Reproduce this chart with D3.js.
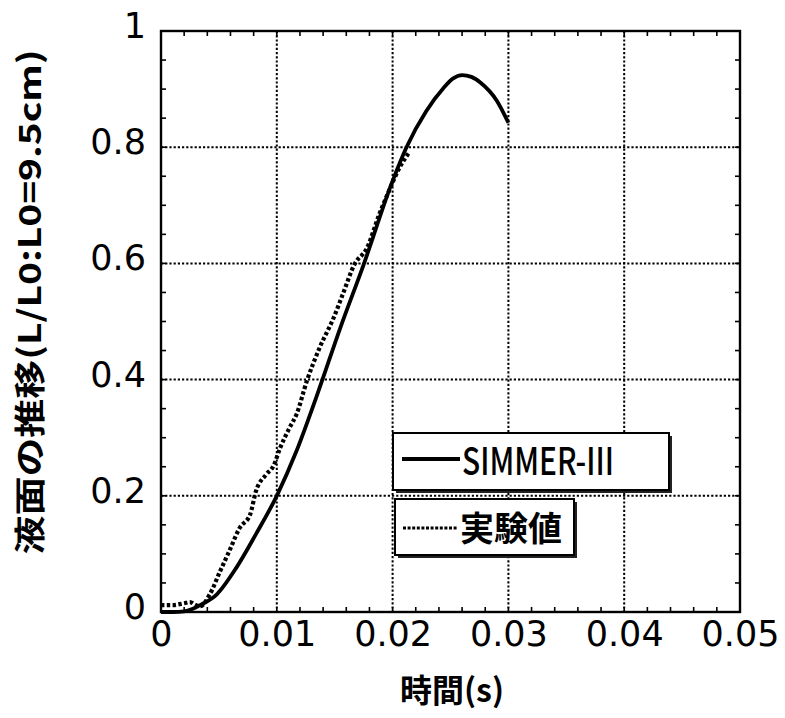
<!DOCTYPE html>
<html>
<head>
<meta charset="utf-8">
<script src="https://d3js.org/d3.v7.min.js"></script>
<style>
  html, body { margin: 0; padding: 0; background: #fff; }
  svg { display: block; }
</style>
</head>
<body>
<svg id="chart" width="785" height="718"></svg>
<script>
// ---- data ----
const simTime = [0, 0.001, 0.002, 0.0027, 0.0035, 0.0048, 0.0065, 0.0082, 0.01, 0.0117, 0.0134, 0.0155, 0.0175, 0.02, 0.0212, 0.0229, 0.0244, 0.0252, 0.026, 0.0268, 0.0276, 0.029, 0.03];
const simValue = [0, 0, 0.001, 0.005, 0.013, 0.03, 0.076, 0.134, 0.2, 0.277, 0.369, 0.49, 0.598, 0.742, 0.8, 0.862, 0.902, 0.918, 0.924, 0.921, 0.911, 0.88, 0.842];

const expTime = [0, 0.001, 0.002, 0.0025, 0.003, 0.0034, 0.0042, 0.0051, 0.0059, 0.0068, 0.0077, 0.0082, 0.0091, 0.0097, 0.0103, 0.0111, 0.0117, 0.0126, 0.0137, 0.0149, 0.0157, 0.0167, 0.0178, 0.0188, 0.0198, 0.0206, 0.0214];
const expValue = [0.012, 0.012, 0.015, 0.017, 0.012, 0.01, 0.03, 0.07, 0.105, 0.145, 0.168, 0.208, 0.237, 0.251, 0.283, 0.317, 0.34, 0.398, 0.455, 0.506, 0.547, 0.598, 0.627, 0.682, 0.73, 0.765, 0.79];

const xTicks = [0, 0.01, 0.02, 0.03, 0.04, 0.05];
const xTickLabels = ["0", "0.01", "0.02", "0.03", "0.04", "0.05"];
const yTicks = [0, 0.2, 0.4, 0.6, 0.8, 1];
const yTickLabels = ["0", "0.2", "0.4", "0.6", "0.8", "1"];
const seriesNames = ["SIMMER-III", "実験値"];
const xTitle = "時間(s)";
const yTitle = "液面の推移(L/L0:L0=9.5cm)";

// ---- layout ----
const svg = d3.select("#chart");
const L = 161, R = 740, T = 31, B = 612;
const x = d3.scaleLinear().domain([0, 0.05]).range([L, R]);
const y = d3.scaleLinear().domain([0, 1]).range([B, T]);

const tickFont = "'DejaVu Sans', sans-serif";
const cjkFont = "'Noto Sans CJK JP', sans-serif";

// grid lines (dotted)
const grid = svg.append("g");
grid.selectAll(".gx").data(xTicks.slice(1, -1)).join("line")
  .attr("x1", d => x(d)).attr("x2", d => x(d)).attr("y1", T).attr("y2", B)
  .attr("stroke", "#000").attr("stroke-width", 2).attr("stroke-dasharray", "2.2,2");
grid.selectAll(".gy").data(yTicks.slice(1, -1)).join("line")
  .attr("x1", L).attr("x2", R).attr("y1", d => y(d)).attr("y2", d => y(d))
  .attr("stroke", "#000").attr("stroke-width", 2).attr("stroke-dasharray", "2.2,2");

// minor ticks inside on all sides
const xMinor = d3.range(0, 0.0501, 0.002);
const yMinor = d3.range(0, 1.001, 0.05);
const tk = svg.append("g").attr("stroke", "#000").attr("stroke-width", 1.6);
tk.selectAll(".tb").data(xMinor).join("line")
  .attr("x1", d => x(d)).attr("x2", d => x(d)).attr("y1", B).attr("y2", B - 5);
tk.selectAll(".tt").data(xMinor).join("line")
  .attr("x1", d => x(d)).attr("x2", d => x(d)).attr("y1", T).attr("y2", T + 5);
tk.selectAll(".tl").data(yMinor).join("line")
  .attr("x1", L).attr("x2", L + 5).attr("y1", d => y(d)).attr("y2", d => y(d));
tk.selectAll(".tr").data(yMinor).join("line")
  .attr("x1", R).attr("x2", R - 5).attr("y1", d => y(d)).attr("y2", d => y(d));

// frame
svg.append("rect").attr("x", L).attr("y", T).attr("width", R - L).attr("height", B - T)
  .attr("fill", "none").attr("stroke", "#000").attr("stroke-width", 2.4);

// axis tick labels via d3 axes (no domain / tick lines)
const xAxis = d3.axisBottom(x).tickValues(xTicks).tickSize(0).tickPadding(0)
  .tickFormat((d, i) => xTickLabels[i]);
const gx = svg.append("g").attr("transform", `translate(0,${B})`).call(xAxis);
gx.select(".domain").remove();
gx.selectAll("text").attr("font-family", tickFont).attr("font-size", 35)
  .attr("fill", "#000").attr("dy", null).attr("y", 34);

const yAxis = d3.axisLeft(y).tickValues(yTicks).tickSize(0).tickPadding(0)
  .tickFormat((d, i) => yTickLabels[i]);
const gy = svg.append("g").attr("transform", `translate(${L},0)`).call(yAxis);
gy.select(".domain").remove();
gy.selectAll("text").attr("font-family", tickFont).attr("font-size", 35)
  .attr("fill", "#000").attr("x", -15).attr("dy", "0.3em")
  .attr("transform", "translate(0,-4)");

// series
const simData = simTime.map((t, i) => [t, simValue[i]]);
const expData = expTime.map((t, i) => [t, expValue[i]]);
const line = d3.line().x(d => x(d[0])).y(d => y(d[1])).curve(d3.curveMonotoneX);

svg.append("path").datum(expData).attr("d", line)
  .attr("fill", "none").attr("stroke", "#000").attr("stroke-width", 4.2)
  .attr("stroke-dasharray", "3.4,2.4");
svg.append("path").datum(simData).attr("d", line)
  .attr("fill", "none").attr("stroke", "#000").attr("stroke-width", 3.8);

// legend boxes
function legendBox(x0, y0, w, h) {
  svg.append("rect").attr("x", x0 + 3).attr("y", y0 + 3).attr("width", w).attr("height", h)
    .attr("fill", "#222");
  svg.append("rect").attr("x", x0).attr("y", y0).attr("width", w).attr("height", h)
    .attr("fill", "#fff").attr("stroke", "#000").attr("stroke-width", 2);
}
legendBox(393, 433, 276, 57);
svg.append("line").attr("x1", 402).attr("x2", 460).attr("y1", 459).attr("y2", 459)
  .attr("stroke", "#000").attr("stroke-width", 3.8);
svg.append("text").attr("x", 462).attr("y", 475).text(seriesNames[0])
  .attr("font-family", cjkFont).attr("font-size", 38).attr("font-weight", 500)
  .attr("textLength", 152).attr("lengthAdjust", "spacingAndGlyphs");

legendBox(395, 499, 179, 56);
svg.append("line").attr("x1", 403).attr("x2", 458).attr("y1", 528).attr("y2", 528)
  .attr("stroke", "#000").attr("stroke-width", 3).attr("stroke-dasharray", "3,1.6");
svg.append("text").attr("x", 460).attr("y", 541).text(seriesNames[1])
  .attr("font-family", cjkFont).attr("font-size", 34).attr("font-weight", "bold");

// axis titles
svg.append("text").attr("x", 452).attr("y", 702).attr("text-anchor", "middle")
  .text(xTitle).attr("font-family", cjkFont).attr("font-size", 32).attr("font-weight", "bold");
svg.append("text").attr("transform", "translate(41,302) rotate(-90)")
  .attr("text-anchor", "middle").text(yTitle)
  .attr("font-family", cjkFont).attr("font-size", 31).attr("font-weight", "bold")
  .attr("textLength", 505).attr("lengthAdjust", "spacingAndGlyphs");
</script>
</body>
</html>
